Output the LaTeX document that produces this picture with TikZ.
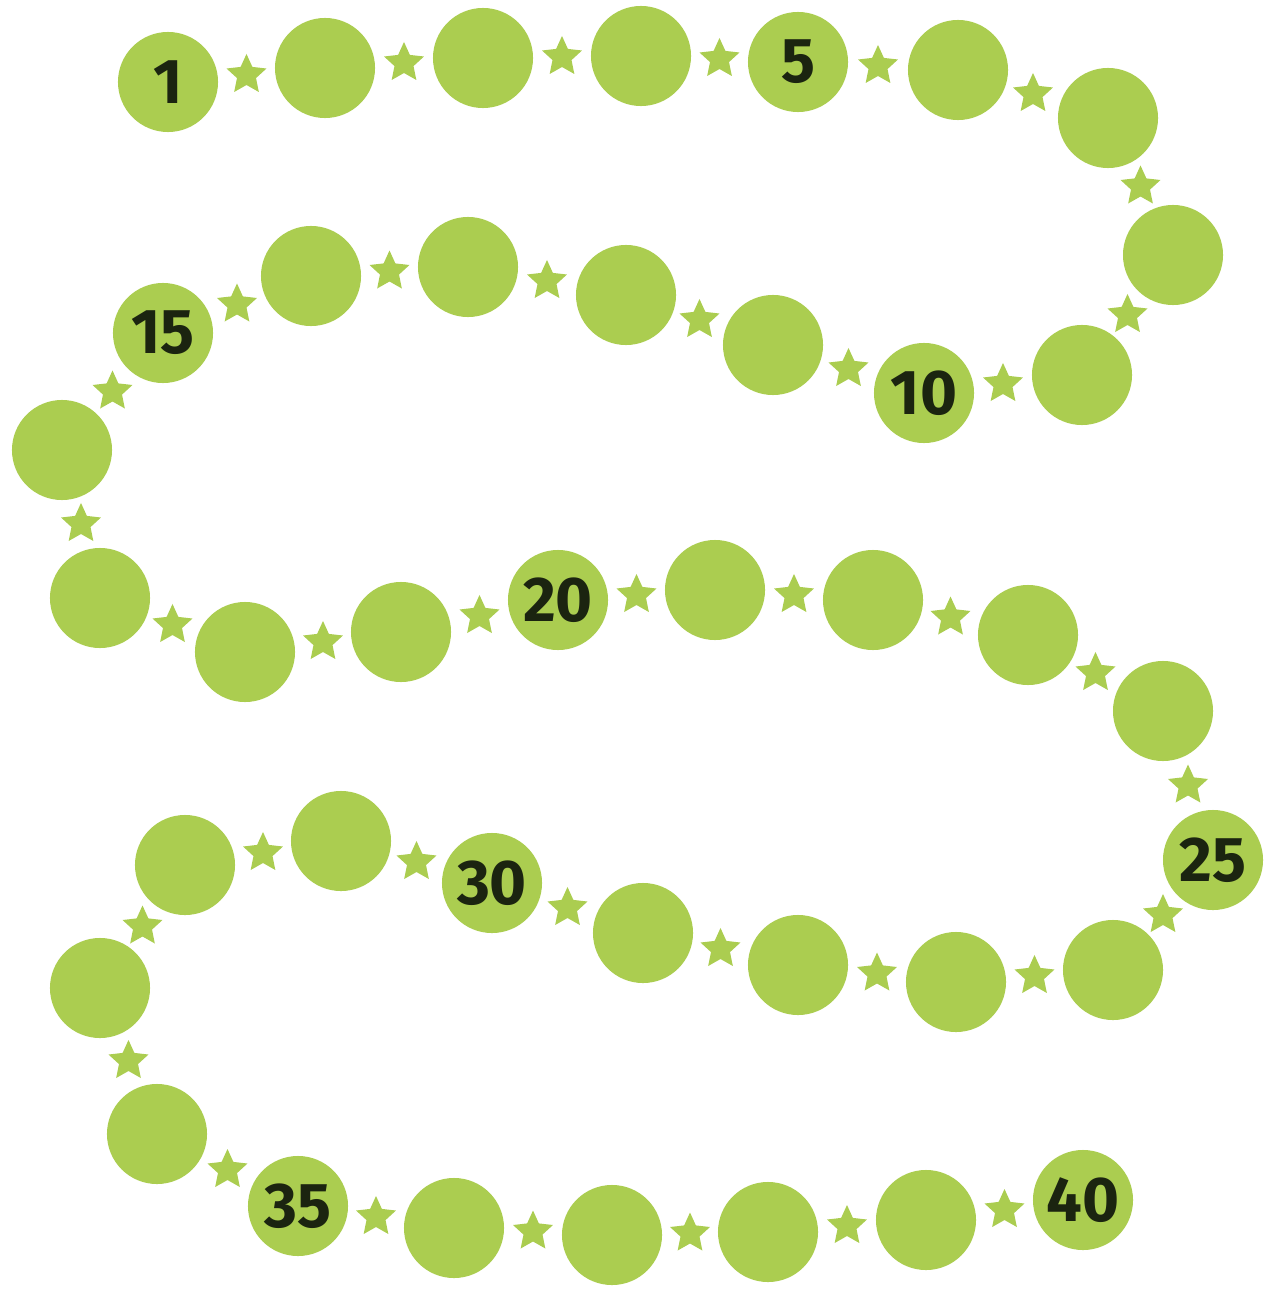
\documentclass[tikz,border=0pt]{standalone}
\usepackage{fontspec}
\setmainfont{Fira Sans}
\usetikzlibrary{shapes.geometric,calc}

\definecolor{beadGreen}{HTML}{ABCD50}
\definecolor{beadText}{HTML}{1B2410}

\tikzset{
  bead/.style={circle,fill=beadGreen,minimum size=1cm,inner sep=0pt,
    text=beadText,font=\fontsize{18}{18}\selectfont\bfseries},
  starmark/.style={star,star points=5,star point ratio=2.1,fill=beadGreen,
    minimum size=0.42cm,inner sep=0pt}
}

\begin{document}
\begin{tikzpicture}[x=0.01cm,y=-0.01cm]
  \useasboundingbox (0,0) rectangle (1270,1291);

  % beads along the path
  \foreach \px/\py/\lbl [count=\i] in {
      168/82/1, 325/68/{}, 483/58/{}, 641/56/{}, 798/62/5,
      958/70/{}, 1108/118/{}, 1173/255/{}, 1082/375/{}, 924/393/10,
      773/345/{}, 626/295/{}, 468/267/{}, 311/276/{}, 163/333/15,
      62/450/{}, 100/598/{}, 245/652/{}, 401/632/{}, 558/600/20,
      715/590/{}, 873/600/{}, 1028/635/{}, 1163/711/{}, 1213/860/25,
      1113/970/{}, 956/982/{}, 798/965/{}, 643/933/{}, 492/883/30,
      341/841/{}, 185/865/{}, 100/988/{}, 157/1134/{}, 298/1206/35,
      454/1228/{}, 612/1235/{}, 768/1232/{}, 926/1220/{}, 1083/1200/40} {
    \node[bead] (c\i) at (\px,\py) {\lbl};
  }

  % little stars between the beads
  \foreach \i [evaluate=\i as \j using int(\i+1)] in {1,...,39} {
    \node[starmark] (s\i) at ($(c\i)!0.5!(c\j)$) {};
  }
\end{tikzpicture}
\end{document}
